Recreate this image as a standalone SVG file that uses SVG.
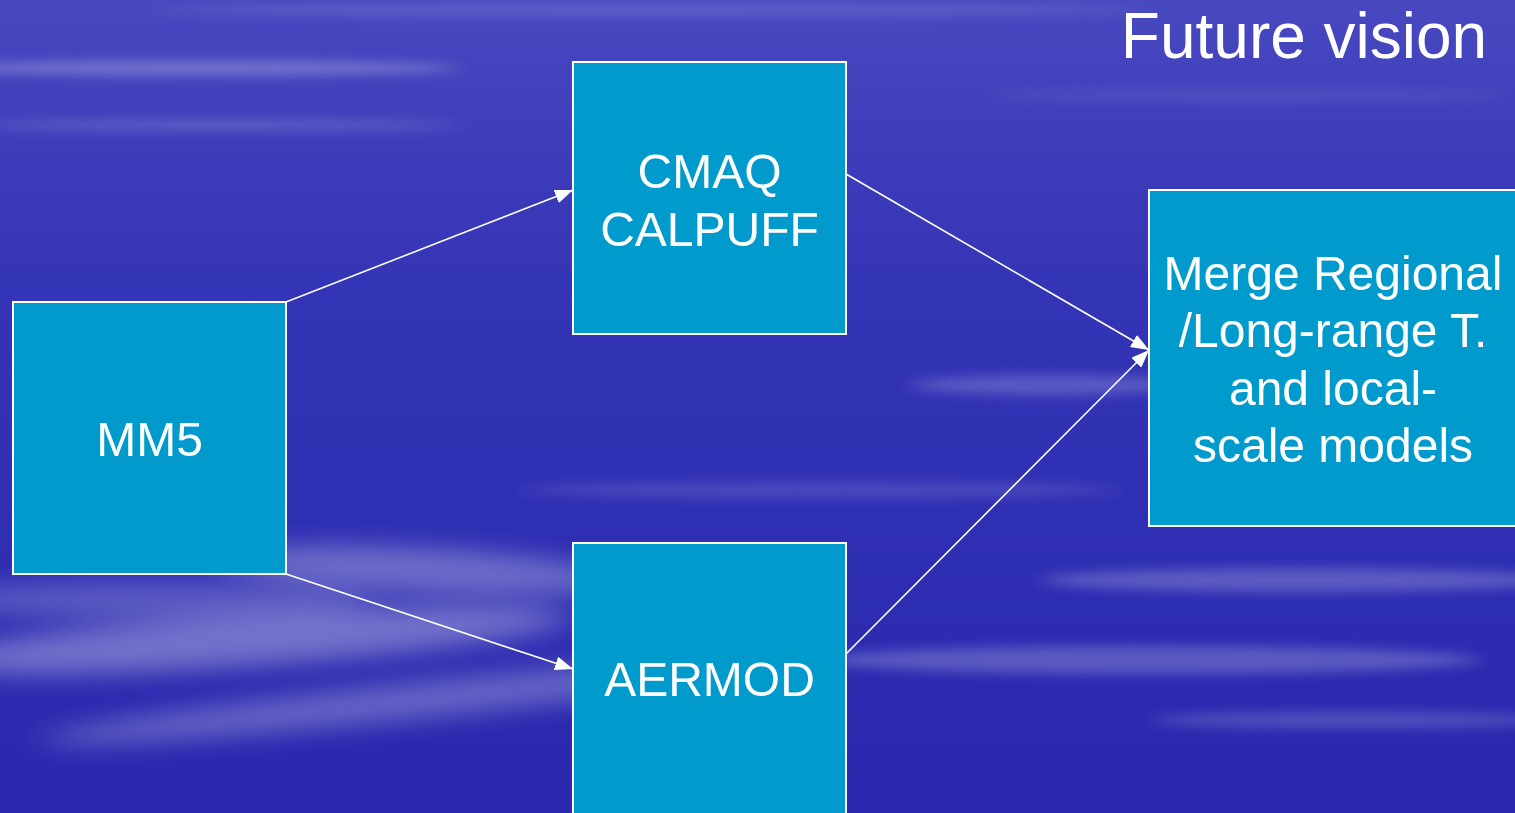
<svg xmlns="http://www.w3.org/2000/svg" width="1515" height="813" viewBox="0 0 1515 813">
<defs>
<linearGradient id="bg" x1="0" y1="0" x2="0" y2="1">
<stop offset="0" stop-color="#4848c0"/>
<stop offset="0.35" stop-color="#3434b6"/>
<stop offset="0.6" stop-color="#3030b4"/>
<stop offset="1" stop-color="#2a28ae"/>
</linearGradient>
<filter id="blur" x="-20%" y="-300%" width="140%" height="700%"><feGaussianBlur stdDeviation="10 6"/></filter>
<filter id="blur2" x="-20%" y="-200%" width="140%" height="500%"><feGaussianBlur stdDeviation="18 12"/></filter>
<marker id="ah" viewBox="0 0 18 14" refX="18" refY="7" markerWidth="18" markerHeight="14" markerUnits="userSpaceOnUse" orient="auto">
<path d="M0,0 L18,7 L0,14 Z" fill="#ffffff"/>
</marker>
<style>
.box{fill:#009bcc;stroke:#ffffff;stroke-width:2}
.lbl{font-family:"Liberation Sans",Arial,sans-serif;font-size:48px;fill:#ffffff;text-anchor:middle}
.con{stroke:#ffffff;stroke-width:1.6;fill:none;marker-end:url(#ah)}
</style>
</defs>
<g id="background">
<rect x="0" y="0" width="1515" height="813" fill="url(#bg)"/>
<g fill="#ffffff" filter="url(#blur)">
<ellipse cx="200" cy="68" rx="260" ry="7" opacity="0.28"/>
<ellipse cx="650" cy="10" rx="500" ry="6" opacity="0.14"/>
<ellipse cx="220" cy="125" rx="240" ry="5" opacity="0.18"/>
<ellipse cx="1250" cy="95" rx="260" ry="5" opacity="0.1"/>
<ellipse cx="1050" cy="385" rx="140" ry="10" opacity="0.2"/>
<ellipse cx="820" cy="490" rx="300" ry="8" opacity="0.13"/>
<ellipse cx="1300" cy="580" rx="260" ry="12" opacity="0.22"/>
<ellipse cx="1150" cy="660" rx="330" ry="14" opacity="0.22"/>
<ellipse cx="1350" cy="720" rx="200" ry="8" opacity="0.18"/>
</g>
<g fill="#ffffff" filter="url(#blur2)">
<ellipse cx="420" cy="570" rx="200" ry="22" opacity="0.3" transform="rotate(3 420 570)"/>
<ellipse cx="250" cy="640" rx="320" ry="26" opacity="0.33" transform="rotate(-4 250 640)"/>
<ellipse cx="420" cy="700" rx="380" ry="18" opacity="0.28" transform="rotate(-6 420 700)"/>
<ellipse cx="150" cy="600" rx="220" ry="18" opacity="0.22"/>
</g>
</g>
<g id="connectors">
<line class="con" x1="286" y1="302" x2="573" y2="190"/>
<line class="con" x1="286" y1="574" x2="573" y2="669"/>
<line class="con" x1="846" y1="174" x2="1149" y2="350"/>
<line class="con" x1="846" y1="654" x2="1149" y2="350"/>
</g>
<g id="title">
<text x="1304" y="58" font-family="'Liberation Sans',Arial,sans-serif" font-size="64" fill="#ffffff" text-anchor="middle">Future vision</text>
</g>
<g id="node-mm5">
<rect class="box" x="13" y="302" width="273" height="272"/>
<text class="lbl" x="149.5" y="456">MM5</text>
</g>
<g id="node-cmaq">
<rect class="box" x="573" y="62" width="273" height="272"/>
<text class="lbl" x="709.5" y="188">CMAQ</text>
<text class="lbl" x="709.5" y="246">CALPUFF</text>
</g>
<g id="node-aermod">
<rect class="box" x="573" y="543" width="273" height="290"/>
<text class="lbl" x="709.5" y="696">AERMOD</text>
</g>
<g id="node-merge">
<rect class="box" x="1149" y="190" width="380" height="336"/>
<text class="lbl" x="1333" y="290">Merge Regional</text>
<text class="lbl" x="1333" y="347">/Long-range T.</text>
<text class="lbl" x="1333" y="405">and local-</text>
<text class="lbl" x="1333" y="462">scale models</text>
</g>
</svg>
